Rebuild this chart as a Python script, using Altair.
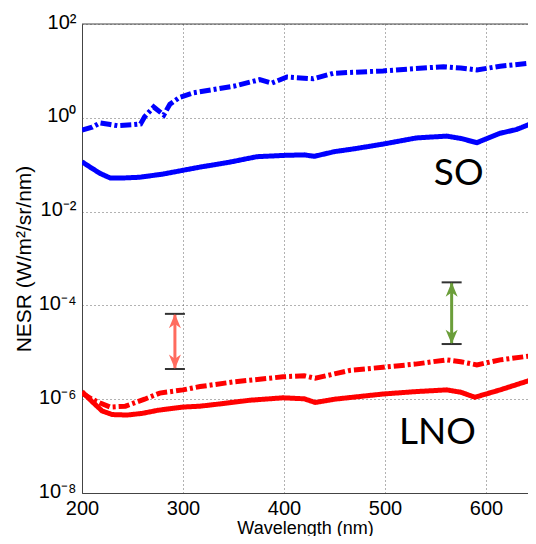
import altair as alt
import pandas as pd

# ---- data ----
so_solid_wl = [200, 208, 218, 228, 240, 257, 280, 300, 317, 345, 373, 400, 420, 430, 450, 470, 498, 531, 561, 575, 591, 614, 630, 650]
so_solid_nesr = [0.115, 0.089, 0.065, 0.052, 0.052, 0.054, 0.063, 0.076, 0.089, 0.112, 0.148, 0.158, 0.162, 0.151, 0.19, 0.219, 0.275, 0.372, 0.407, 0.363, 0.295, 0.468, 0.562, 0.83]

so_dash_wl = [200, 210, 218, 228, 235, 250, 258, 262, 271, 281, 287, 297, 310, 330, 350, 376, 388, 403, 429, 449, 498, 530, 558, 575, 591, 614, 650]
so_dash_nesr = [0.55, 0.63, 0.78, 0.72, 0.68, 0.71, 0.74, 1.05, 1.7, 1.15, 1.95, 2.75, 3.4, 4.0, 4.7, 6.5, 5.5, 7.4, 6.8, 8.9, 10.0, 11.2, 12.3, 11.5, 10.5, 12.6, 15.1]

lno_solid_wl = [200, 210, 220, 230, 245, 260, 275, 300, 317, 340, 366, 399, 420, 431, 450, 498, 530, 561, 575, 589, 614, 650]
lno_solid_nesr = [1.45e-6, 8.9e-7, 5.6e-7, 4.7e-7, 4.6e-7, 5.0e-7, 5.8e-7, 6.8e-7, 7.1e-7, 8.1e-7, 9.5e-7, 1.07e-6, 1.02e-6, 8.5e-7, 1.0e-6, 1.29e-6, 1.45e-6, 1.58e-6, 1.41e-6, 1.10e-6, 1.58e-6, 2.8e-6]

lno_dash_wl = [200, 210, 218, 228, 243, 262, 277, 300, 317, 350, 399, 420, 431, 465, 498, 530, 561, 575, 591, 614, 650]
lno_dash_nesr = [1.35e-6, 1.0e-6, 8.3e-7, 6.8e-7, 7.1e-7, 1.0e-6, 1.35e-6, 1.58e-6, 1.86e-6, 2.34e-6, 3.0e-6, 3.16e-6, 2.8e-6, 4.1e-6, 4.8e-6, 5.6e-6, 6.9e-6, 6.3e-6, 5.4e-6, 6.9e-6, 8.7e-6]

series_names = ["SO solid", "SO dashdot", "LNO solid", "LNO dashdot"]
series_colors = ["#0000FF", "#0000FF", "#FF0000", "#FF0000"]

label_text = ["SO", "LNO"]
label_wl = [573, 552]
label_nesr = [0.063, 1.86e-7]

arrow_wl = [292, 566]
arrow_top = [6.6e-5, 3.1e-4]
arrow_bottom = [4.4e-6, 1.5e-5]
arrow_colors = ["#FF6B5E", "#6B9E3A"]

x_ticks = [200, 300, 400, 500, 600]
y_ticks = [1e-8, 1e-6, 1e-4, 1e-2, 1, 100]
y_tick_labels = ["10⁻⁸", "10⁻⁶", "10⁻⁴", "10⁻²", "10⁰", "10²"]

# ---- tables ----
rows = []
for name, style, xs, ys in [
    ("SO solid", "solid", so_solid_wl, so_solid_nesr),
    ("SO dashdot", "dashdot", so_dash_wl, so_dash_nesr),
    ("LNO solid", "solid", lno_solid_wl, lno_solid_nesr),
    ("LNO dashdot", "dashdot", lno_dash_wl, lno_dash_nesr),
]:
    for x, y in zip(xs, ys):
        rows.append({"wl": x, "nesr": y, "series": name, "style": style})
df = pd.DataFrame(rows)

labels_df = pd.DataFrame({"wl": label_wl, "nesr": label_nesr, "text": label_text})
arrows_df = pd.DataFrame({"wl": arrow_wl, "top": arrow_top, "bottom": arrow_bottom, "color": arrow_colors})
frame_df = pd.DataFrame({"nesr": [100]})

# nested ternary label expression giving superscript exponents
parts = []
for v, lab in sorted(zip(y_ticks, y_tick_labels), key=lambda t: -t[0])[:-1]:
    parts.append(f"datum.value > {v / 10:g} ? '{lab}' : ")
expr = "".join(parts) + f"'{y_tick_labels[0]}'"

x_scale = alt.Scale(domain=[200, 641.6], nice=False, zero=False)
y_scale = alt.Scale(type="log", domain=[1e-8, 100], nice=False)

x_axis = alt.Axis(title="Wavelength (nm)", values=x_ticks, labelPadding=5, labelFlush=False,
                  titleY=26, titleBaseline="top", titleFontSize=18)
y_axis = alt.Axis(title="NESR (W/m²/sr/nm)", values=y_ticks, labelExpr=expr, labelFlush=False,
                  labelPadding=6, labelOffset=-2, titleX=-58, titleAngle=-90, titleAlign="center",
                  titleBaseline="middle", titleFontSize=21)


def X(field):
    return alt.X(field, type="quantitative", scale=x_scale, axis=x_axis)


def Y(field):
    return alt.Y(field, type="quantitative", scale=y_scale, axis=y_axis)


lines = alt.Chart(df).mark_line(clip=True, strokeWidth=5).encode(
    x=X("wl"),
    y=Y("nesr"),
    detail="series:N",
    color=alt.Color("series:N", scale=alt.Scale(domain=series_names, range=series_colors), legend=None),
    strokeDash=alt.StrokeDash("style:N", scale=alt.Scale(domain=["solid", "dashdot"], range=[[1, 0], [11, 3, 3, 3]]), legend=None),
)

top_frame = alt.Chart(frame_df).mark_rule(color="#444", strokeWidth=1).encode(y=Y("nesr"))

shafts = alt.Chart(arrows_df).mark_rule(strokeWidth=3).encode(
    x=X("wl"), y=Y("top"), y2="bottom:Q", color=alt.Color("color:N", scale=None)
)
up_path = "M0,0L0.5,1.2L0,0.85L-0.5,1.2Z"
down_path = "M0,0L0.5,-1.2L0,-0.85L-0.5,-1.2Z"
heads_up = alt.Chart(arrows_df).mark_point(shape=up_path, filled=True, size=576, opacity=1, strokeWidth=0).encode(
    x=X("wl"), y=Y("top"), color=alt.Color("color:N", scale=None)
)
heads_down = alt.Chart(arrows_df).mark_point(shape=down_path, filled=True, size=576, opacity=1, strokeWidth=0).encode(
    x=X("wl"), y=Y("bottom"), color=alt.Color("color:N", scale=None)
)
caps_top = alt.Chart(arrows_df).mark_tick(orient="horizontal", size=20, thickness=2, color="#333", opacity=1).encode(
    x=X("wl"), y=Y("top")
)
caps_bottom = alt.Chart(arrows_df).mark_tick(orient="horizontal", size=20, thickness=2, color="#333", opacity=1).encode(
    x=X("wl"), y=Y("bottom")
)

texts = alt.Chart(labels_df).mark_text(font="Lato", fontSize=37, color="black", align="center", baseline="middle").encode(
    x=X("wl"), y=Y("nesr"), text="text:N"
)

chart = alt.layer(lines, top_frame, shafts, caps_top, caps_bottom, heads_up, heads_down, texts).properties(
    width=446, height=469,
    autosize=alt.AutoSizeParams(type="none"),
    padding={"left": 74, "top": 16, "right": 0, "bottom": 43},
).configure_view(stroke=None).configure_axis(
    labelFont="Liberation Sans", labelFontSize=20, labelColor="black",
    titleFont="Liberation Sans", titleFontSize=20, titleColor="black", titleFontWeight="normal",
    domainColor="#444", domainWidth=1, ticks=False,
    gridDash=[1, 3], gridColor="#555", gridOpacity=0.9, gridWidth=1,
)

chart.save("out.html", embed_options={"renderer": "svg", "actions": False})
